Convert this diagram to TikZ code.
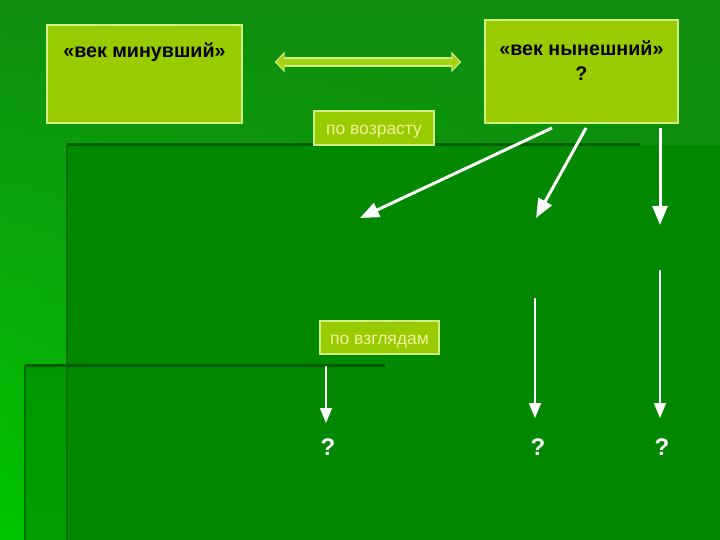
\documentclass[tikz,border=0pt]{standalone}
\usepackage{fontspec}
\setmainfont{Liberation Sans}
\usetikzlibrary{positioning,arrows.meta,shadings}

\definecolor{bgtop}{RGB}{16,142,16}
\definecolor{bglow}{RGB}{0,198,0}
\definecolor{bgright}{RGB}{4,140,4}
\definecolor{panel}{RGB}{0,137,0}
\definecolor{strip}{RGB}{0,150,0}
\definecolor{edge}{RGB}{0,92,0}
\definecolor{edgesoft}{RGB}{0,112,0}
\definecolor{boxfill}{RGB}{153,204,0}
\definecolor{boxline}{RGB}{206,240,130}
\definecolor{linkfill}{RGB}{166,212,20}
\definecolor{tagtext}{RGB}{242,242,160}

\begin{document}
\begin{tikzpicture}[x=1pt,y=-1pt,
  bigbox/.style={draw=boxline, line width=1.3pt, fill=boxfill},
  boxtitle/.style={inner sep=0pt, font=\fontsize{19.7}{25}\selectfont\bfseries},
  tag/.style={draw=boxline, line width=1.3pt, fill=boxfill, text=tagtext,
    text height=15pt, text depth=1.3pt, font=\fontsize{17.5}{20}\selectfont},
  qmark/.style={text=white, font=\fontsize{24}{26}\selectfont\bfseries},
  linkout/.style={draw=boxline, line width=9.5pt,
    {Triangle[width=20pt,length=10pt]}-{Triangle[width=20pt,length=10pt]}},
  linkin/.style={draw=linkfill, line width=6.5pt,
    {Triangle[width=15pt,length=7.5pt]}-{Triangle[width=15pt,length=7.5pt]}},
  flow/.style={draw=white, line width=3pt, -{Triangle[width=15pt,length=19pt]}},
  flowthin/.style={draw=white, line width=2pt, -{Triangle[width=12pt,length=15pt]}}]

\useasboundingbox (0,0) rectangle (720,540);

% background
\shade[upper left=bgtop, upper right=bgtop, lower left=bglow, lower right=bgright]
  (0,0) rectangle (720,540);
\fill[panel] (67,145) rectangle (720,540);
\shade[top color=strip, bottom color=strip!80!bglow] (25,365) rectangle (67,540);
\draw[edge, line width=3pt] (67,145) -- (640,145);
\draw[edgesoft, line width=2.5pt] (67,145) -- (67,540);
\draw[edge, line width=3pt] (25,365) -- (385,365);
\draw[edgesoft, line width=2pt] (25,365) -- (25,540);

% boxes
\node[bigbox, minimum width=195pt, minimum height=98pt] (past) at (144.5,74) {};
\node[boxtitle, below=18.4pt of past.north] (pastname) {«век минувший»};
\node[bigbox, minimum width=193pt, minimum height=103pt] (present) at (581.5,71.5) {};
\node[boxtitle, align=center, below=21.4pt of present.north] (presentname) {«век нынешний»\\?};

\node[tag, minimum width=120pt, minimum height=34pt] (age) at (374,128) {по возрасту};
\node[tag, minimum width=119pt, minimum height=33pt] (views) at (379.5,337.5) {по взглядам};

% link between the two ages
\draw[linkout, shorten <=32pt, shorten >=23pt] ([yshift=12pt]past.east) -- ([yshift=9.5pt]present.west);
\draw[linkin, shorten <=33.6pt, shorten >=24.6pt] ([yshift=12pt]past.east) -- ([yshift=9.5pt]present.west);

% arrow ends
\coordinate (s1) at (552,128);
\coordinate (e1) at (360,218);
\coordinate (s2) at (586,128);
\coordinate (e2) at (536,218);
\coordinate (s3) at (660,128);
\coordinate (e3) at (660,225);
\coordinate (s4) at (660,270);
\coordinate (e4) at (660,418);
\coordinate (s5) at (535,298);
\coordinate (e5) at (535,418);
\coordinate (s6) at (326,366);
\coordinate (e6) at (326,423);

\draw[flow] (s1) -- (e1);
\draw[flow] (s2) -- (e2);
\draw[flow] (s3) -- (e3);
\draw[flowthin] (s4) -- (e4);
\draw[flowthin] (s5) -- (e5);
\draw[flowthin] (s6) -- (e6);

% answers
\node[qmark] (q1) at (328,447) {?};
\node[qmark] (q2) at (538,447) {?};
\node[qmark] (q3) at (662,447) {?};

\end{tikzpicture}
\end{document}
